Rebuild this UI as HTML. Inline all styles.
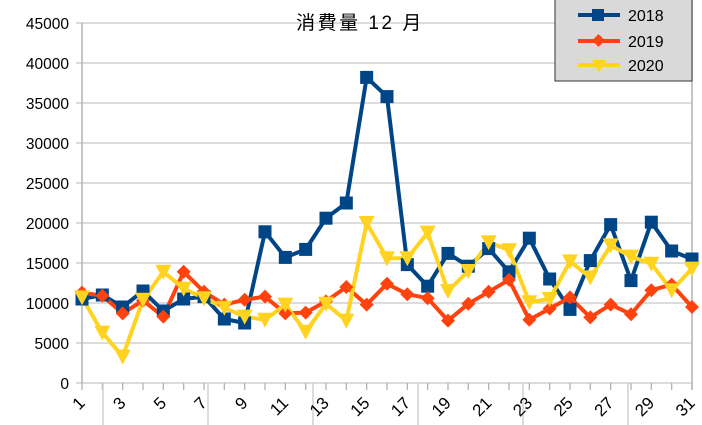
<!DOCTYPE html>
<html><head><meta charset="utf-8"><style>
body{margin:0;background:#fff;}
svg{display:block;font-family:"Liberation Sans","Noto Sans CJK JP",sans-serif;}
</style></head><body>
<svg id="s" width="702" height="425" viewBox="0 0 702 425" xmlns="http://www.w3.org/2000/svg">
<rect width="702" height="425" fill="#fff"/>
<g id="grid"></g>
<text x="360" y="29" font-size="19" letter-spacing="2.5" text-anchor="middle" fill="#000">消費量 12 月</text>
<g id="series"></g>
<g>
<rect x="555" y="-1" width="137" height="82" fill="#d9d9d9" stroke="#333" stroke-width="1"/>
<line x1="578" y1="15" x2="620" y2="15" stroke="#004586" stroke-width="4"/><rect x="592" y="9" width="12" height="12" fill="#004586"/>
<text x="628" y="21" font-size="16">2018</text>
<line x1="578" y1="41" x2="620" y2="41" stroke="#ff420e" stroke-width="4"/><rect x="594" y="36" width="9" height="9" fill="#ff420e" transform="rotate(45 598.5 40.5)"/>
<text x="628" y="47" font-size="16">2019</text>
<line x1="578" y1="65" x2="620" y2="65" stroke="#ffd320" stroke-width="4"/><polygon points="592,60 606,60 599,72" fill="#ffd320"/>
<text x="628" y="71" font-size="16">2020</text>
</g>
</svg>
<script>
const NS="http://www.w3.org/2000/svg";
function el(t,a,p){const e=document.createElementNS(NS,t);for(const k in a)e.setAttribute(k,a[k]);if(p)p.appendChild(e);return e;}
const g=document.getElementById('grid'),sg=document.getElementById('series');
const X=i=>82+(i-1)*20.333, Y=v=>383-v*0.008;
for(let k=0;k<=9;k++){const y=383-k*40;
 el('line',{x1:76,y1:y,x2:692,y2:y,stroke:'#c8c8c8','stroke-width':1.3},g);
 const t=el('text',{x:69,y:y+6,'font-size':15.5,'text-anchor':'end',fill:'#000'},g);t.textContent=k*5000;}
el('line',{x1:82,y1:23,x2:82,y2:383,stroke:'#b3b3b3','stroke-width':1.5},g);
el('line',{x1:692,y1:0,x2:692,y2:390,stroke:'#b3b3b3','stroke-width':1.5},g);
for(let i=1;i<=31;i++){el('line',{x1:X(i),y1:383,x2:X(i),y2:390,stroke:'#b3b3b3','stroke-width':1.3},g);}
[103,208,313,418,523,628].forEach(x=>el('line',{x1:x,y1:383,x2:x,y2:425,stroke:'#c8c8c8','stroke-width':1.3},g));
for(let i=1;i<=31;i+=2){const x=X(i)+4,y=404;const t=el('text',{x:x,y:y,'font-size':17,'text-anchor':'end',fill:'#000',transform:`rotate(-45 ${x} ${y})`},g);t.textContent=i;}
const d18=[10500,11000,9500,11500,9000,10500,10800,8000,7500,18900,15700,16700,20600,22500,38200,35800,14800,12100,16200,14600,16800,13900,18100,13000,9200,15300,19800,12800,20100,16500,15500];
const d19=[11300,10900,8700,10300,8300,13900,11400,9800,10400,10800,8700,8800,10200,12000,9800,12400,11100,10600,7800,9900,11400,12900,7900,9300,10700,8200,9800,8600,11600,12300,9500];
const d20=[10700,6300,3300,10400,13900,11800,10600,9400,8300,7900,9800,6400,9900,7800,20000,15600,15600,18800,11500,14000,17600,16600,10100,10500,15200,13200,17200,15800,14900,11600,14300];
function line(d,c){el('polyline',{points:d.map((v,i)=>X(i+1)+','+Y(v)).join(' '),fill:'none',stroke:c,'stroke-width':4,'stroke-linejoin':'round'},sg);}
line(d18,'#004586');line(d19,'#ff420e');line(d20,'#ffd320');
d18.forEach((v,i)=>el('rect',{x:X(i+1)-6.5,y:Y(v)-6.5,width:13,height:13,fill:'#004586'},sg));
d19.forEach((v,i)=>{const x=X(i+1),y=Y(v);el('polygon',{points:`${x},${y-7} ${x+7},${y} ${x},${y+7} ${x-7},${y}`,fill:'#ff420e'},sg);});
d20.forEach((v,i)=>{const x=X(i+1),y=Y(v);el('polygon',{points:`${x-8},${y-7} ${x+8},${y-7} ${x},${y+8}`,fill:'#ffd320'},sg);});
</script>
</body></html>
